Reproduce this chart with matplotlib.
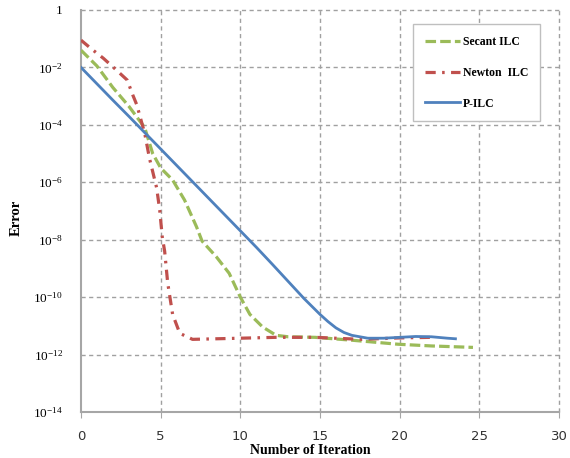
import matplotlib
matplotlib.use("Agg")
import matplotlib.pyplot as plt
import numpy as np

# ---- data (log10 of error) ----
secant_x = [0, 1, 2, 3, 4, 4.5, 5, 5.75, 6.5, 7.25, 7.6, 8.5, 9.3, 10, 10.6, 11.4, 12.25, 13, 14.7, 17, 19.9, 22, 24.6]
secant_log = [-1.4, -1.95, -2.7, -3.35, -4.1, -5.0, -5.5, -5.92, -6.62, -7.55, -8.05, -8.6, -9.17, -10.0, -10.6, -11.04, -11.33, -11.38, -11.4, -11.5, -11.64, -11.7, -11.75]

newton_x = [0, 0.6, 1.4, 2.1, 2.9, 3.25, 3.5, 3.7, 4.0, 4.3, 4.75, 4.94, 5.1, 5.25, 5.44, 5.75, 6.2, 7.0, 10, 12.2, 14.7, 17.6, 20, 22]
newton_log = [-1.05, -1.33, -1.68, -2.03, -2.44, -2.96, -3.3, -3.7, -4.3, -5.17, -6.2, -6.97, -7.9, -8.4, -9.5, -10.6, -11.26, -11.47, -11.43, -11.4, -11.4, -11.47, -11.42, -11.4]

pilc_x = [0, 1, 2, 3, 4, 5, 6, 7, 8, 9, 10, 11, 12, 13, 14, 15, 15.5, 16, 16.5, 17, 18, 19, 20, 21, 22, 23, 23.5]
pilc_log = [-2.0, -2.57, -3.14, -3.7, -4.27, -4.84, -5.41, -5.98, -6.55, -7.12, -7.69, -8.26, -8.85, -9.45, -10.05, -10.6, -10.85, -11.07, -11.23, -11.33, -11.43, -11.43, -11.4, -11.37, -11.38, -11.43, -11.45]

x_ticks = [0, 5, 10, 15, 20, 25, 30]
y_exps = [0, -2, -4, -6, -8, -10, -12, -14]
y_labels = ["1", r"$10^{-2}$", r"$10^{-4}$", r"$10^{-6}$", r"$10^{-8}$", r"$10^{-10}$", r"$10^{-12}$", r"$10^{-14}$"]

plt.rcParams['mathtext.fontset'] = 'custom'
plt.rcParams['mathtext.rm'] = 'Liberation Serif'
plt.rcParams['mathtext.it'] = 'Liberation Serif:italic'

fig = plt.figure(figsize=(5.70, 4.58), dpi=100)
ax = fig.add_axes([81/570, 1-412/458, (559-81)/570, (412-10)/458])

green = '#9BBB59'
red = '#C0504D'
blue = '#4F81BD'

ax.plot(secant_x, 10.0**np.array(secant_log), color=green, lw=2.3,
        dashes=(3.3, 1.3), label='Secant ILC', zorder=3)
ax.plot(newton_x, 10.0**np.array(newton_log), color=red, lw=2.3,
        dashes=(3.2, 2.0, 0.8, 2.0), label='Newton  ILC', zorder=3)
ax.plot(pilc_x, 10.0**np.array(pilc_log), color=blue, lw=2.0,
        label='P-ILC', zorder=4)

ax.set_yscale('log')
ax.set_xlim(0, 30)
ax.set_ylim(1e-14, 1)
ax.set_xticks(x_ticks)
ax.set_xticklabels([str(t) for t in x_ticks], fontsize=9.5, family='DejaVu Sans', color='#333333')
ax.set_yticks([10.0**e for e in y_exps])
ax.set_yticklabels(y_labels, fontsize=9.5, family='Liberation Serif')
ax.yaxis.set_minor_locator(matplotlib.ticker.NullLocator())

grid_kw = dict(color='#A0A0A0', lw=1.0, ls=(0, (3, 2.5)))
for t in x_ticks[1:]:
    ax.axvline(t, clip_on=False, zorder=1, **grid_kw)
for e in y_exps[:-1]:
    ax.axhline(10.0**e, clip_on=False, zorder=1, **grid_kw)

for s in ['top', 'right']:
    ax.spines[s].set_visible(False)
for s in ['left', 'bottom']:
    ax.spines[s].set_color('#A6A6A6')
    ax.spines[s].set_linewidth(1.5)

ax.tick_params(axis='x', direction='out', length=4, color='#A6A6A6', pad=9)
ax.tick_params(axis='y', direction='out', length=0, pad=13)

ax.set_xlabel('Number of Iteration', family='Liberation Serif', fontweight='bold', fontsize=10)
ax.xaxis.label.set_va('center')
ax.xaxis.set_label_coords((310-81)/(559-81), -(450-412)/402)
ax.set_ylabel('Error', family='Liberation Serif', fontweight='bold', fontsize=10.5)
ax.yaxis.label.set_va('center')
ax.yaxis.set_label_coords(-(81-16)/(559-81), (412-218)/402)

leg = fig.legend(loc='upper left', bbox_to_anchor=(413/570, 1-24/458),
                 bbox_transform=fig.transFigure, borderaxespad=0,
                 prop={'family': 'Liberation Serif', 'weight': 'bold', 'size': 8.5},
                 handlelength=3.0, handletextpad=0.2, labelspacing=1.6,
                 borderpad=1.0, fancybox=False, framealpha=1, edgecolor='#BFBFBF')
leg.get_frame().set_linewidth(1.0)

fig.savefig('out.png', dpi=100)
